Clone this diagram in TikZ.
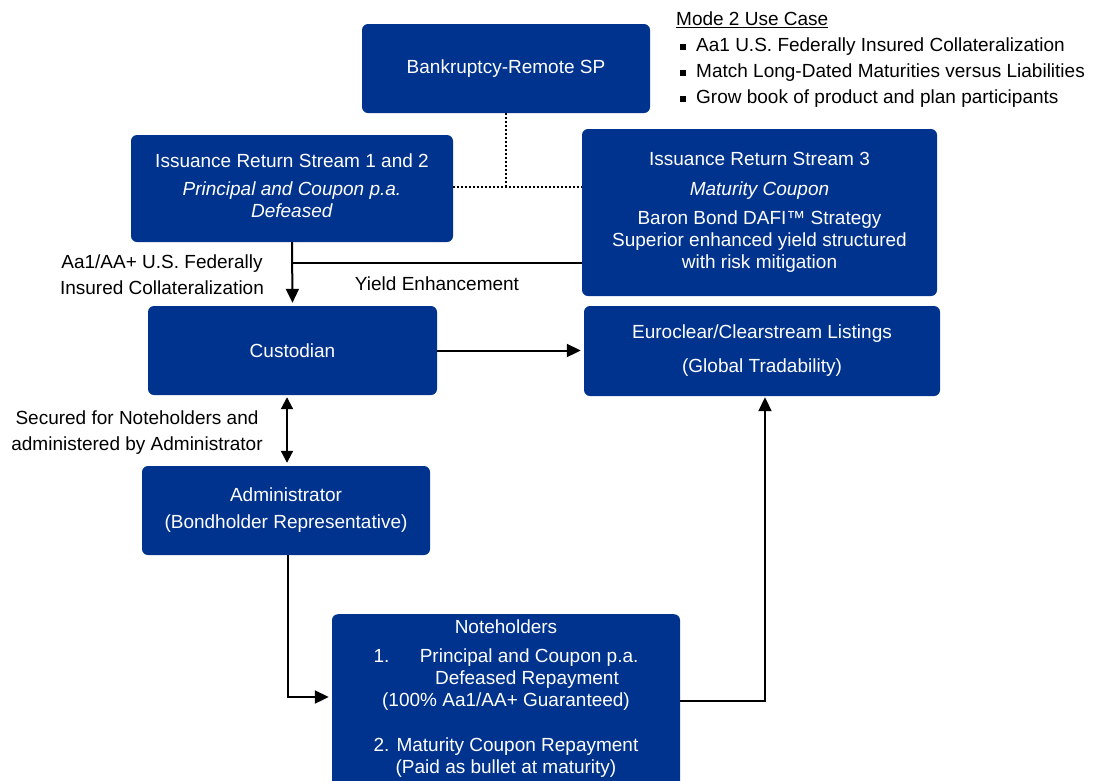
\documentclass[tikz,border=0pt]{standalone}
\usepackage{fontspec}
\setmainfont{Liberation Sans}
\usetikzlibrary{positioning,arrows.meta}

\definecolor{boxblue}{HTML}{00338D}

\tikzset{
  box/.style={fill=boxblue, rounded corners=6pt, text=white, align=center, inner sep=0pt},
  boxtext/.style={text=white, align=center, inner sep=0pt},
  link/.style={line width=2pt, -{Triangle[length=14pt,width=13pt]}, shorten >=3pt},
  twoway/.style={line width=2pt, {Triangle[length=12pt,width=12pt]}-{Triangle[length=12pt,width=12pt]}},
  plain/.style={line width=2pt},
  dots/.style={line width=2pt, dash pattern=on 2pt off 2pt},
  label/.style={align=center, inner sep=0pt, font=\fontsize{19}{26}\selectfont},
}

\begin{document}
\begin{tikzpicture}[x=1pt, y=-1pt, font=\fontsize{19}{22}\selectfont]
  \useasboundingbox (0,0) rectangle (1093,780);

  % boxes
  \node[box, minimum width=288pt, minimum height=89pt] (spv) at (506,68.5) {Bankruptcy-Remote SP};
  \node[box, minimum width=322pt, minimum height=107pt] (irs12) at (292,188.5) {};
  \node[boxtext] (irs12text) at (292,186)
    {Issuance Return Stream 1 and 2\\[6pt] \textit{Principal and Coupon p.a.}\\ \textit{Defeased}};
  \node[box, minimum width=355pt, minimum height=167pt] (irs3) at (759.5,212.5)
    {Issuance Return Stream 3\\[8pt] \textit{Maturity Coupon}\\[7pt] Baron Bond DAFI™ Strategy\\
     Superior enhanced yield structured\\ with risk mitigation};
  \node[box, minimum width=289pt, minimum height=89pt] (cust) at (292.5,350.5) {Custodian};
  \node[box, minimum width=356pt, minimum height=90pt] (euro) at (762,351)
    {Euroclear/Clearstream Listings\\[12pt] (Global Tradability)};
  \node[box, minimum width=288pt, minimum height=89pt] (admin) at (286,510.5)
    {Administrator\\[5pt] (Bondholder Representative)};
  \node[box, minimum width=348pt, minimum height=190pt, anchor=north] (notes) at (506,614) {};
  \node[boxtext, below=6pt of notes.north] (notestext)
    {Noteholders\\[7pt] 1.\hspace{1.6em}Principal and Coupon p.a.\\ \hspace*{42pt}Defeased Repayment\\
     (100\% Aa1/AA+ Guaranteed)\\[23pt] 2. Maturity Coupon Repayment\\ (Paid as bullet at maturity)};

  % labels
  \node[label] (collat) at (162,275) {Aa1/AA+ U.S. Federally\\ Insured Collateralization};
  \node[label] (yield) at (437,284) {Yield Enhancement};
  \node[label] (secured) at (137,433) {Secured for Noteholders and\\ administered by Administrator};
  \node[label, align=left, anchor=west] (usecase) at (676,59.5)
    {\underline{Mode 2 Use Case}\\
     \hspace*{4pt}\rule[1pt]{6pt}{6pt}\hspace{10pt}Aa1 U.S. Federally Insured Collateralization\\
     \hspace*{4pt}\rule[1pt]{6pt}{6pt}\hspace{10pt}Match Long-Dated Maturities versus Liabilities\\
     \hspace*{4pt}\rule[1pt]{6pt}{6pt}\hspace{10pt}Grow book of product and plan participants};

  % connectors
  \coordinate (dj) at ([yshift=1.5pt]irs12.east);
  \draw[dots] (dj) -- (dj -| irs3.west);
  \draw[dots] (spv.south) -- (spv.south |- dj);
  \draw[link] (irs12.south) -- (cust.north);
  \coordinate (yj) at ([yshift=-21pt]irs12.south);
  \draw[plain] (yj) -- (yj -| irs3.west);
  \draw[link] (cust.east) -- (cust.east -| euro.west);
  \draw[twoway, shorten <=2pt, shorten >=3pt] ([xshift=1pt]admin.north |- cust.south) -- ([xshift=1pt]admin.north);
  \draw[link] ([xshift=2pt]admin.south) |- ([yshift=-83pt]notes.north west);
  \draw[link, shorten >=1pt] ([yshift=-87pt]notes.north east) -| ([xshift=3pt]euro.south);
\end{tikzpicture}
\end{document}
